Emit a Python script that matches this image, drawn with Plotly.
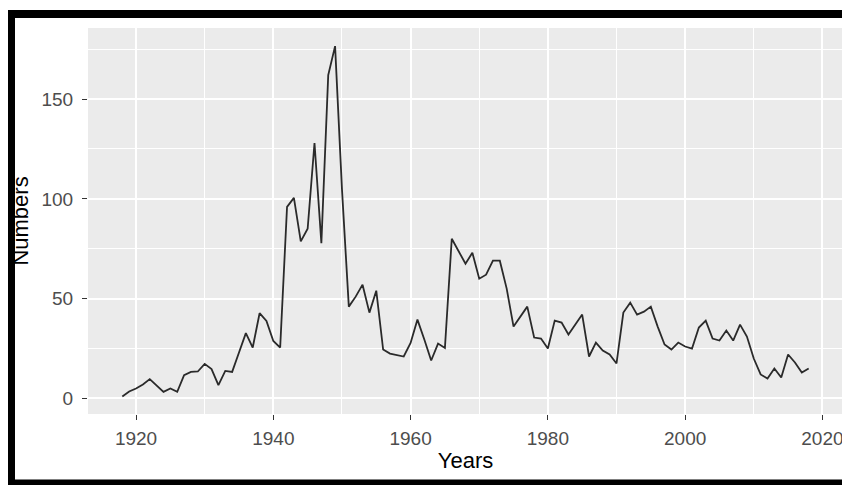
import plotly.graph_objects as go

years = list(range(1918, 2019))
numbers = [
    1, 3.5, 5, 7, 9.7, 6.3, 3.3, 5, 3.3, 11.7,          # 1918-1927
    13.3, 13.5, 17.3, 14.7, 6.7, 13.8, 13.3, 23, 32.7, 25.5,  # 1928-1937
    42.7, 38.8, 28.8, 25.5, 96, 100.5, 78.7, 85, 128, 77.8,   # 1938-1947
    162, 176.5, 105, 46, 51, 57, 43, 54, 24.5, 22.5,         # 1948-1957
    21.8, 21, 27.8, 39.5, 29.5, 19, 27.5, 25.3, 80, 74,       # 1958-1967
    67.5, 73, 60, 62, 69, 69, 55, 36, 41, 46,                 # 1968-1977
    30.5, 30, 25, 39, 38, 32, 37, 42, 21, 28,                 # 1978-1987
    24, 22, 17.5, 43, 48, 42, 43.5, 46, 36, 27,               # 1988-1997
    24.5, 28, 26, 25, 35.5, 39, 30, 29, 34, 29,               # 1998-2007
    37, 31, 20, 12, 10, 15, 10.5, 22, 18, 13,                 # 2008-2017
    15,                                                       # 2018
]
x_ticks = [1920, 1940, 1960, 1980, 2000, 2020]
y_ticks = [0, 50, 100, 150]
x_title = "Years"
y_title = "Numbers"

# The page body adds an 8px offset; work in screen pixels and compensate.
OFF = 8
W, H = 850 - OFF, 485 - OFF
L, R, T, B = 88 - OFF, 843 - OFF, 28 - OFF, 414 - OFF  # panel edges in figure px

fig = go.Figure()
fig.add_trace(go.Scatter(x=years, y=numbers, mode="lines",
                         line=dict(color="#2a2a2a", width=1.8),
                         hoverinfo="skip", showlegend=False))

tickfont = dict(family="Liberation Sans, Arial, sans-serif", size=19, color="#4D4D4D")
titlefont = dict(family="Liberation Sans, Arial, sans-serif", size=22, color="black")

fig.update_layout(
    width=W, height=H,
    margin=dict(l=L, r=W - R, t=T, b=H - B, pad=0, autoexpand=False),
    paper_bgcolor="white", plot_bgcolor="#EBEBEB",
    showlegend=False,
)
fig.update_xaxes(
    range=[1913, 2023], tickvals=x_ticks, ticktext=[str(v) for v in x_ticks],
    showgrid=True, gridcolor="white", gridwidth=1.5, zeroline=False,
    ticks="outside", ticklen=5, tickwidth=1.2, tickcolor="#333333",
    tickfont=tickfont, ticklabelstandoff=2, showline=False,
    minor=dict(tickvals=[1930, 1950, 1970, 1990, 2010], showgrid=True,
               gridcolor="white", gridwidth=0.8, ticks=""),
    title=dict(text=x_title, font=titlefont, standoff=4),
)
fig.update_yaxes(
    range=[-7.8, 185.6], tickvals=y_ticks, ticktext=[str(v) for v in y_ticks],
    showgrid=True, gridcolor="white", gridwidth=1.5, zeroline=False,
    ticks="outside", ticklen=5, tickwidth=1.2, tickcolor="#333333",
    tickfont=tickfont, ticklabelstandoff=5, showline=False,
    minor=dict(tickvals=[25, 75, 125, 175], showgrid=True,
               gridcolor="white", gridwidth=0.8, ticks=""),
    title=dict(text=y_title, font=titlefont, standoff=8),
)

def px_x(px):
    return (px - OFF - L) / (R - L)

def px_y(py):
    return (B - (py - OFF)) / (B - T)

# black frame around the image (top, left, bottom bands), in screen px
frame = [
    (6.7, 10, 870, 18),     # top
    (6.7, 10, 15, 500),     # left
    (6.7, 479.5, 870, 500), # bottom
]
for x0, y0, x1, y1 in frame:
    fig.add_shape(type="rect", xref="paper", yref="paper",
                  x0=px_x(x0), x1=px_x(x1), y0=px_y(y1), y1=px_y(y0),
                  fillcolor="black", line=dict(width=0), layer="above")

fig.write_html("out.html")
